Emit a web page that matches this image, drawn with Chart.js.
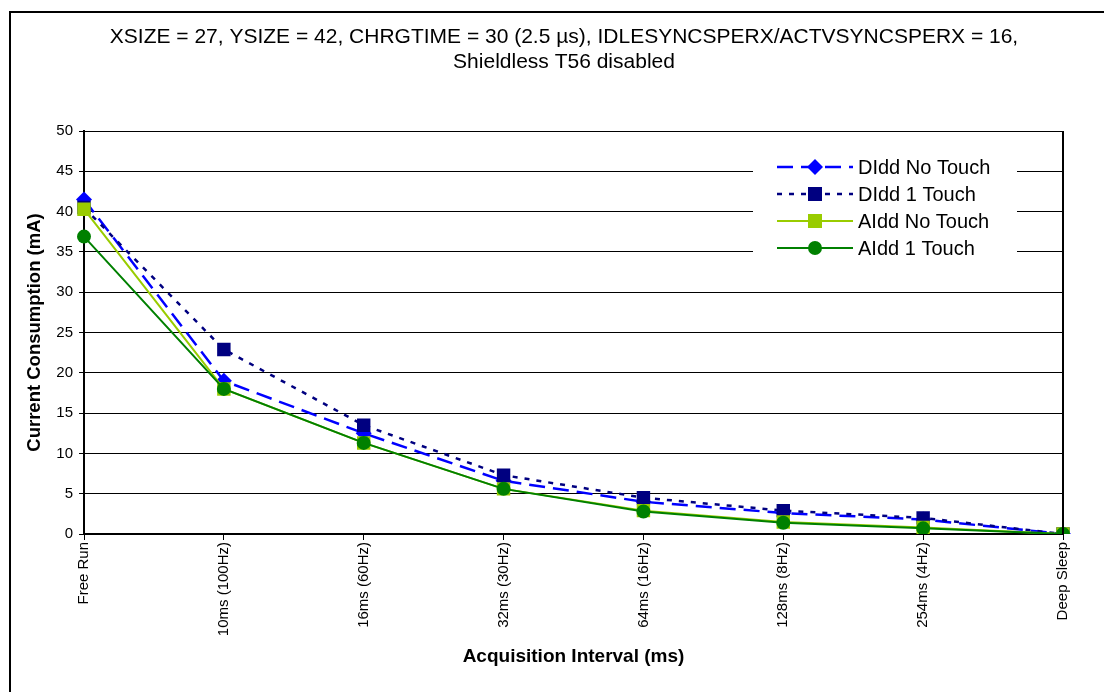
<!DOCTYPE html>
<html>
<head>
<meta charset="utf-8">
<script src="https://cdn.jsdelivr.net/npm/chart.js@4/dist/chart.umd.min.js"></script>
<style>
  html, body { margin: 0; padding: 0; background: #fff; }
  #wrap { position: relative; width: 1104px; height: 692px; overflow: hidden; }
  #frame { position: absolute; left: 9px; top: 11px; width: 1200px; height: 800px; border-left: 2px solid #000; border-top: 2px solid #000; }
  canvas { position: absolute; left: 0; top: 0; }
</style>
</head>
<body>
<div id="wrap">
  <div id="frame"></div>
  <canvas id="c" width="1104" height="692"></canvas>
</div>
<script>
const titleLines = ['XSIZE = 27, YSIZE = 42, CHRGTIME = 30 (2.5 µs), IDLESYNCSPERX/ACTVSYNCSPERX = 16,', 'Shieldless T56 disabled'];
const categories = ['Free Run', '10ms (100Hz)', '16ms (60Hz)', '32ms (30Hz)', '64ms (16Hz)', '128ms (8Hz)', '254ms (4Hz)', 'Deep Sleep'];
const didd_noTouch = [41.5, 19.0, 12.5, 6.6, 4.0, 2.6, 1.8, 0];
const didd_1Touch  = [40.5, 22.9, 13.5, 7.3, 4.5, 2.9, 2.0, 0];
const aidd_noTouch = [40.3, 18.0, 11.3, 5.6, 2.9, 1.5, 0.8, 0];
const aidd_1Touch  = [36.9, 18.0, 11.3, 5.6, 2.8, 1.4, 0.7, 0];
const seriesNames = ['DIdd No Touch', 'DIdd 1 Touch', 'AIdd No Touch', 'AIdd 1 Touch'];
const yTitle = 'Current Consumption (mA)';
const xTitle = 'Acquisition Interval (ms)';

const FONT = "'Liberation Sans', Arial, sans-serif";

const styles = [
  { color: '#0000ff', dash: [16, 8], point: 'rectRot', radius: 8, width: 2.5 },
  { color: '#000080', dash: [5, 7], point: 'rect', radius: 9.5, width: 2.5 },
  { color: '#99cc00', dash: [], point: 'rect', radius: 9.5, width: 2 },
  { color: '#008000', dash: [], point: 'circle', radius: 7, width: 2 }
];
const seriesData = [didd_noTouch, didd_1Touch, aidd_noTouch, aidd_1Touch];

const datasets = seriesData.map((d, i) => ({
  label: seriesNames[i],
  data: d,
  borderColor: styles[i].color,
  backgroundColor: styles[i].color,
  borderWidth: styles[i].width,
  borderDash: styles[i].dash,
  pointStyle: styles[i].point,
  pointRadius: styles[i].radius,
  pointBorderWidth: 0,
  pointBorderColor: styles[i].color,
  pointBackgroundColor: styles[i].color,
  tension: 0,
  fill: false,
  order: 4 - i
}));

const chartTitle = {
  id: 'chartTitle',
  afterDraw(chart) {
    const { ctx } = chart;
    ctx.save();
    ctx.fillStyle = '#000';
    ctx.font = '21px ' + FONT;
    ctx.textAlign = 'center';
    ctx.textBaseline = 'middle';
    titleLines.forEach((t, i) => ctx.fillText(t, 564, 37 + i * 25));
    ctx.restore();
  }
};

const plotBorder = {
  id: 'plotBorder',
  afterDatasetsDraw(chart) {
    const { ctx, chartArea } = chart;
    ctx.save();
    ctx.strokeStyle = '#000';
    ctx.lineWidth = 2;
    ctx.beginPath();
    ctx.moveTo(chartArea.right, chartArea.top);
    ctx.lineTo(chartArea.right, chartArea.bottom);
    ctx.stroke();
    ctx.restore();
  }
};

const innerLegend = {
  id: 'innerLegend',
  afterDraw(chart) {
    const { ctx } = chart;
    const x0 = 753, y0 = 150, w = 264, h = 112;
    ctx.save();
    ctx.fillStyle = '#fff';
    ctx.fillRect(x0, y0, w, h);
    const rowH = 27;
    ctx.font = '20px ' + FONT;
    ctx.textBaseline = 'middle';
    ctx.textAlign = 'left';
    seriesNames.forEach((name, i) => {
      const y = 167 + i * rowH;
      const s = styles[i];
      ctx.strokeStyle = s.color;
      ctx.lineWidth = s.width;
      ctx.setLineDash(s.dash);
      ctx.beginPath();
      ctx.moveTo(777, y);
      ctx.lineTo(853, y);
      ctx.stroke();
      ctx.setLineDash([]);
      ctx.fillStyle = s.color;
      const mx = 815;
      if (s.point === 'rectRot') {
        ctx.beginPath();
        ctx.moveTo(mx, y - 8); ctx.lineTo(mx + 8, y); ctx.lineTo(mx, y + 8); ctx.lineTo(mx - 8, y);
        ctx.closePath(); ctx.fill();
      } else if (s.point === 'rect') {
        ctx.fillRect(mx - 7, y - 7, 14, 14);
      } else {
        ctx.beginPath(); ctx.arc(mx, y, 7, 0, Math.PI * 2); ctx.fill();
      }
      ctx.fillStyle = '#000';
      ctx.fillText(name, 858, y + 1);
    });
    ctx.restore();
  }
};

new Chart(document.getElementById('c'), {
  type: 'line',
  data: { labels: categories, datasets },
  options: {
    responsive: false,
    animation: false,
    layout: { padding: { left: 0, right: 41, top: 131, bottom: 0 } },
    plugins: {
      legend: { display: false },
      tooltip: { enabled: false },
      title: { display: false }
    },
    scales: {
      x: {
        offset: false,
        grid: { drawOnChartArea: false, drawTicks: true, tickLength: 6, color: '#000', lineWidth: 1 },
        border: { color: '#000', width: 2 },
        ticks: { color: '#000', font: { family: FONT, size: 15 }, minRotation: 90, maxRotation: 90, padding: 2, autoSkip: false },
        title: { display: true, text: xTitle, color: '#000', font: { family: FONT, size: 19, weight: 'bold' }, padding: { top: 4, bottom: 24 } },
        afterFit(scale) { scale.height = 158; }
      },
      y: {
        min: 0, max: 50,
        grid: { color: '#000', lineWidth: 1, tickLength: 5 },
        border: { color: '#000', width: 2 },
        ticks: { stepSize: 5, color: '#000', font: { family: FONT, size: 15 }, padding: 6 },
        title: { display: true, text: yTitle, color: '#000', font: { family: FONT, size: 18.5, weight: 'bold' }, padding: { top: 24, bottom: 0 } },
        afterFit(scale) { scale.width = 84; }
      }
    }
  },
  plugins: [plotBorder, innerLegend, chartTitle]
});
</script>
</body>
</html>
